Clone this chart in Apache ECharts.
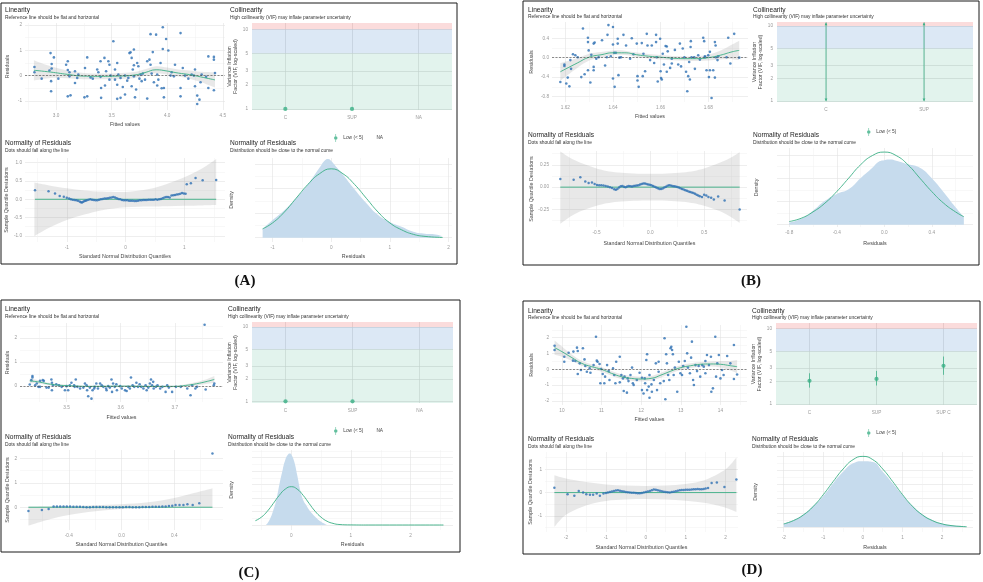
<!DOCTYPE html>
<html>
<head>
<meta charset="utf-8">
<script src="https://cdn.jsdelivr.net/npm/echarts@6/dist/echarts.min.js"></script>
<style>
  html, body { margin: 0; padding: 0; background: #fff; }
  #chart { width: 983px; height: 582px; }
</style>
</head>
<body>
<div id="chart"></div>
<script>
// ---------------- data ----------------
// (A)
const A_lin_pts = [[2.805,0.34],[2.805,0.13],[2.87,-0.12],[2.94,0.2],[2.95,0.89],[2.96,0.46],[2.96,0.28],[2.98,0.72],[2.955,-0.22],[2.955,-0.62],[3.02,-0.12],[3.09,0.43],[3.105,0.57],[3.105,0.22],[3.12,0.13],[3.12,-0.03],[3.13,-0.78],[3.105,-0.82],[3.17,0.17],[3.17,-0.29],[3.255,-0.86],[3.28,-0.82],[3.28,0.72],[3.26,0.3],[3.31,-0.07],[3.33,-0.12],[3.37,0.24],[3.38,0.13],[3.4,0.57],[3.405,-0.88],[3.405,-0.49],[3.435,0.7],[3.47,0.57],[3.48,0.43],[3.48,-0.16],[3.44,-0.39],[3.515,1.36],[3.53,-0.16],[3.55,-0.36],[3.55,0.5],[3.56,0.04],[3.58,-0.09],[3.55,-0.92],[3.58,-0.88],[3.6,-0.45],[3.62,-0.75],[3.66,0.89],[3.67,0.92],[3.68,0.7],[3.68,-0.42],[3.69,0.24],[3.7,1.03],[3.7,0.41],[3.7,-0.03],[3.71,-0.86],[3.72,-0.55],[3.73,0.5],[3.74,0.37],[3.75,-0.12],[3.77,-0.22],[3.78,0.08],[3.8,-0.16],[3.82,-0.91],[3.82,0.57],[3.84,0.63],[3.85,0.43],[3.85,1.64],[3.86,0.08],[3.87,0.93],[3.88,-0.26],[3.9,1.62],[3.91,0.04],[3.91,-0.39],[3.94,0.5],[3.95,-0.5],[3.96,1.91],[3.96,1.05],[3.97,-0.86],[3.99,1.45],[3.97,-0.49],[4.01,0.99],[4.03,0.0],[4.06,-0.03],[4.07,0.43],[4.12,1.68],[4.12,-0.49],[4.12,-0.82],[4.14,0.3],[4.16,0.0],[4.19,-0.12],[4.22,0.04],[4.24,0.0],[4.25,0.24],[4.25,-0.42],[4.27,-1.12],[4.27,-0.79],[4.29,-0.95],[4.31,0.04],[4.37,-0.49],[4.37,0.76],[4.42,0.74],[4.42,0.63],[4.42,-0.58],[4.43,0.1],[3.4,-0.05],[3.2,0.04],[3.19,-0.09],[3.45,0.17],[3.62,0.0],[3.64,-0.2],[3.76,0.04],[3.49,0.0],[3.53,0.24],[3.65,-0.09],[4.04,0.13],[3.92,-0.16],[4.35,-0.05],[4.3,-0.26]];
// loess fit: [fitted, fit, se]
const A_lin_fit = [[2.8,0.21,0.4],[2.95,0.14,0.23],[3.1,0.05,0.15],[3.25,-0.02,0.12],[3.4,-0.03,0.11],[3.55,-0.02,0.11],[3.7,0.02,0.12],[3.8,0.12,0.13],[3.9,0.23,0.14],[4.0,0.18,0.14],[4.1,0.1,0.14],[4.2,0.04,0.16],[4.3,-0.05,0.2],[4.43,-0.17,0.3]];
const A_qq_pts = [[-1.54,0.25],[-1.31,0.22],[-1.2,0.16],[-1.12,0.09],[-1.05,0.07],[-1.0,0.04],[-0.96,0.02],[-0.93,0.0],[-0.9,-0.01],[-0.87,-0.02],[-0.84,-0.03],[-0.81,-0.04],[-0.78,-0.06],[-0.76,-0.08],[-0.74,-0.09],[-0.72,-0.07],[-0.7,-0.05],[-0.68,-0.04],[-0.66,-0.03],[-0.63,-0.01],[-0.6,0.0],[-0.57,-0.01],[-0.54,-0.02],[-0.51,-0.03],[-0.48,-0.03],[-0.45,-0.01],[-0.42,0.0],[-0.39,0.01],[-0.36,0.02],[-0.33,0.02],[-0.3,0.03],[-0.27,0.04],[-0.24,0.05],[-0.21,0.06],[-0.18,0.05],[-0.15,0.03],[-0.12,0.01],[-0.09,0.0],[-0.06,-0.02],[-0.03,-0.03],[0.0,-0.03],[0.03,-0.03],[0.06,-0.04],[0.09,-0.04],[0.12,-0.04],[0.15,-0.05],[0.18,-0.05],[0.21,-0.04],[0.24,-0.03],[0.27,-0.03],[0.3,-0.02],[0.33,-0.02],[0.36,-0.02],[0.39,-0.01],[0.42,-0.01],[0.45,-0.01],[0.48,-0.01],[0.51,0.0],[0.54,-0.01],[0.57,0.0],[0.6,0.01],[0.63,0.03],[0.66,0.05],[0.69,0.06],[0.72,0.06],[0.75,0.05],[0.78,0.1],[0.81,0.11],[0.84,0.12],[0.87,0.13],[0.9,0.14],[0.93,0.15],[0.96,0.17],[0.99,0.16],[1.02,0.15],[1.04,0.41],[1.11,0.44],[1.19,0.58],[1.31,0.52],[1.54,0.53]];
// QQ band: [quantile, lower, upper]
const A_qq_band = [[-1.55,-1.01,0.46],[-1.3,-0.78,0.38],[-1.0,-0.57,0.3],[-0.7,-0.42,0.24],[-0.4,-0.3,0.21],[0,-0.22,0.2],[0.4,-0.2,0.28],[0.7,-0.19,0.42],[1.0,-0.18,0.6],[1.3,-0.17,0.84],[1.54,-0.16,1.1]];
const A_den_fill = [[-1.17,0.09],[-1.0,0.18],[-0.8,0.28],[-0.6,0.4],[-0.4,0.54],[-0.2,0.71],[-0.1,0.79],[-0.05,0.8],[0,0.78],[0.1,0.71],[0.2,0.64],[0.4,0.49],[0.6,0.35],[0.8,0.23],[1.0,0.16],[1.2,0.11],[1.4,0.06],[1.6,0.04],[1.75,0.035],[1.9,0.015]];
const A_den_norm = [[-1.17,0.09],[-1.0,0.15],[-0.8,0.26],[-0.6,0.4],[-0.4,0.54],[-0.2,0.65],[0,0.7],[0.2,0.65],[0.4,0.54],[0.6,0.4],[0.8,0.26],[1.0,0.15],[1.2,0.08],[1.4,0.034],[1.6,0.013],[1.9,0.002]];
const A_vif_terms = ['C', 'SUP', 'NA'];
const A_vif = [1, 1, null];

// (B)
const B_lin_pts = [[1.6179,-0.5],[1.6196,-0.14],[1.6196,-0.17],[1.6204,-0.53],[1.621,-0.41],[1.6217,-0.59],[1.6221,-0.05],[1.6224,-0.23],[1.6232,0.07],[1.6242,0.05],[1.6252,0.01],[1.6267,-0.4],[1.6274,0.6],[1.6281,-0.34],[1.6295,-0.26],[1.6295,0.41],[1.6295,0.32],[1.6298,0.15],[1.6305,-0.51],[1.6309,0.06],[1.6319,0.29],[1.6323,0.31],[1.6319,-0.19],[1.6319,-0.26],[1.633,-0.02],[1.634,0.01],[1.6354,0.36],[1.6367,-0.16],[1.6377,0.47],[1.6381,0.67],[1.6391,0.03],[1.64,0.63],[1.64,0.27],[1.64,-0.43],[1.6405,0.1],[1.6407,-0.6],[1.6412,0.1],[1.642,0.39],[1.642,0.29],[1.6423,-0.36],[1.6427,0.0],[1.6434,0.01],[1.6444,0.47],[1.6455,0.25],[1.6479,0.4],[1.6486,0.07],[1.65,0.29],[1.6503,-0.38],[1.6503,-0.47],[1.6508,-0.6],[1.6521,0.3],[1.6525,-0.38],[1.6528,0.08],[1.6535,-0.28],[1.6542,0.49],[1.6545,0.25],[1.6563,0.25],[1.6573,-0.11],[1.6581,0.32],[1.6581,0.47],[1.6584,0.01],[1.6588,-0.49],[1.6598,0.39],[1.66,-0.28],[1.6602,-0.42],[1.6605,-0.45],[1.6609,0.08],[1.6614,-0.14],[1.6621,0.24],[1.6626,-0.29],[1.6626,0.23],[1.663,0.13],[1.664,-0.21],[1.6647,-0.12],[1.666,0.16],[1.6674,-0.14],[1.6681,0.29],[1.6686,-0.18],[1.6693,0.19],[1.67,0.01],[1.6707,-0.29],[1.6712,-0.69],[1.6716,-0.38],[1.672,-0.09],[1.6723,-0.45],[1.6726,0.22],[1.6727,0.34],[1.673,0.01],[1.6741,0.01],[1.6758,0.05],[1.6779,0.41],[1.6783,0.34],[1.6786,0.03],[1.6786,0.01],[1.6793,-0.26],[1.68,0.05],[1.6803,-0.4],[1.6807,0.12],[1.6807,-0.26],[1.6814,-0.83],[1.6821,-0.26],[1.6828,0.32],[1.6828,-0.41],[1.6831,0.25],[1.6832,0.01],[1.6839,-0.05],[1.6842,0.03],[1.6877,0.01],[1.6884,0.41],[1.6893,-0.12],[1.6909,0.49],[1.693,0.0],[1.6744,-0.23],[1.6374,0.01],[1.6472,-0.02],[1.6556,-0.05],[1.6647,-0.02],[1.6765,-0.04]];
const B_lin_fit = [[1.6179,-0.29,0.18],[1.625,-0.11,0.1],[1.63,0.01,0.07],[1.635,0.06,0.055],[1.64,0.1,0.05],[1.645,0.1,0.045],[1.65,0.06,0.045],[1.655,0.03,0.045],[1.66,0.01,0.045],[1.665,-0.01,0.045],[1.67,-0.02,0.045],[1.675,-0.02,0.05],[1.68,0.0,0.06],[1.685,0.05,0.09],[1.69,0.12,0.15],[1.693,0.15,0.2]];
const B_qq_pts = [[-0.836,0.09],[-0.712,0.083],[-0.65,0.11],[-0.604,0.064],[-0.573,0.045],[-0.542,0.053],[-0.517,0.034],[-0.495,0.025],[-0.475,0.02],[-0.455,0.022],[-0.435,0.018],[-0.415,0.012],[-0.395,0.008],[-0.375,0.0],[-0.355,-0.01],[-0.335,-0.025],[-0.32,-0.03],[-0.305,-0.02],[-0.29,-0.005],[-0.275,0.01],[-0.26,0.012],[-0.245,0.005],[-0.23,0.0],[-0.215,0.008],[-0.2,0.012],[-0.185,0.01],[-0.17,0.008],[-0.155,0.012],[-0.14,0.015],[-0.125,0.018],[-0.11,0.022],[-0.095,0.03],[-0.08,0.035],[-0.065,0.042],[-0.05,0.04],[-0.035,0.035],[-0.02,0.03],[-0.005,0.028],[0.01,0.022],[0.025,0.012],[0.04,0.004],[0.055,-0.004],[0.07,-0.012],[0.085,-0.02],[0.1,-0.022],[0.115,-0.015],[0.13,-0.005],[0.145,0.005],[0.16,0.015],[0.175,0.022],[0.19,0.018],[0.205,0.012],[0.22,0.01],[0.235,0.008],[0.25,0.002],[0.265,-0.005],[0.28,-0.012],[0.295,-0.02],[0.31,-0.028],[0.325,-0.035],[0.34,-0.042],[0.355,-0.048],[0.37,-0.055],[0.385,-0.06],[0.4,-0.066],[0.415,-0.075],[0.43,-0.085],[0.445,-0.095],[0.46,-0.103],[0.48,-0.11],[0.5,-0.085],[0.52,-0.095],[0.54,-0.11],[0.565,-0.12],[0.59,-0.14],[0.63,-0.105],[0.69,-0.15],[0.83,-0.25]];
const B_qq_band = [[-0.836,-0.41,0.4],[-0.7,-0.3,0.3],[-0.5,-0.21,0.21],[-0.3,-0.165,0.165],[0,-0.15,0.15],[0.3,-0.165,0.165],[0.5,-0.21,0.21],[0.7,-0.3,0.3],[0.83,-0.4,0.39]];
const B_den_fill = [[-0.8,0.034],[-0.7,0.1],[-0.6,0.24],[-0.5,0.41],[-0.4,0.53],[-0.3,0.61],[-0.2,0.8],[-0.1,0.98],[-0.05,1.08],[0,1.11],[0.05,1.12],[0.1,1.1],[0.2,1.04],[0.3,0.98],[0.4,0.8],[0.5,0.56],[0.6,0.3],[0.67,0.13]];
const B_den_norm = [[-0.8,0.054],[-0.7,0.11],[-0.6,0.22],[-0.5,0.37],[-0.4,0.57],[-0.3,0.8],[-0.2,1.03],[-0.1,1.19],[0,1.25],[0.1,1.19],[0.2,1.03],[0.3,0.8],[0.4,0.57],[0.5,0.37],[0.6,0.22],[0.67,0.137]];
const B_vif_terms = ['C', 'SUP'];
const B_vif_lo = [1, 1];
const B_vif_hi = [11.1, 11.1];

// (C)
const C_lin_pts = [[3.432,0.07],[3.435,0.25],[3.437,0.42],[3.437,0.36],[3.442,0.04],[3.445,0.11],[3.448,-0.03],[3.451,0.22],[3.456,0.25],[3.458,0.22],[3.463,-0.06],[3.467,-0.06],[3.472,0.28],[3.473,-0.17],[3.473,0.14],[3.475,0.04],[3.481,0.08],[3.486,0.04],[3.491,-0.03],[3.497,-0.17],[3.503,-0.17],[3.506,0.04],[3.509,0.14],[3.514,0.04],[3.515,-0.03],[3.517,0.28],[3.52,-0.03],[3.525,-0.1],[3.531,-0.06],[3.534,0.11],[3.537,0.04],[3.538,-0.17],[3.54,-0.42],[3.546,-0.52],[3.548,-0.17],[3.551,-0.1],[3.552,-0.03],[3.555,0.11],[3.558,-0.1],[3.562,0.11],[3.565,0.04],[3.568,-0.03],[3.573,-0.1],[3.574,-0.17],[3.577,0.0],[3.58,-0.06],[3.583,0.28],[3.584,-0.24],[3.586,0.11],[3.589,-0.03],[3.592,0.08],[3.593,-0.17],[3.599,0.0],[3.602,-0.1],[3.608,-0.17],[3.611,-0.2],[3.614,-0.03],[3.617,-0.1],[3.619,0.36],[3.622,0.04],[3.625,-0.03],[3.629,0.14],[3.632,-0.03],[3.638,-0.03],[3.642,-0.1],[3.646,0.04],[3.648,-0.17],[3.651,-0.06],[3.654,0.11],[3.656,0.28],[3.658,0.04],[3.66,0.18],[3.661,-0.1],[3.665,-0.03],[3.668,0.04],[3.673,-0.1],[3.677,-0.03],[3.683,-0.24],[3.689,-0.06],[3.695,-0.24],[3.702,-0.03],[3.711,-0.03],[3.723,-0.1],[3.729,-0.38],[3.732,0.04],[3.738,-0.1],[3.741,-0.03],[3.757,-0.14],[3.772,0.04],[3.773,0.11],[3.755,2.56],[3.451,-0.03],[3.5,0.0],[3.543,-0.06],[3.635,0.08],[3.686,0.04]];
const C_lin_fit = [[3.432,0.22,0.1],[3.45,0.17,0.07],[3.47,0.08,0.05],[3.5,0.02,0.04],[3.55,-0.01,0.035],[3.6,0.0,0.035],[3.65,-0.01,0.035],[3.7,-0.01,0.04],[3.72,0.03,0.05],[3.74,0.1,0.07],[3.76,0.2,0.1],[3.773,0.28,0.14]];
const C_qq_pts = [[-0.706,-0.15],[-0.604,-0.11],[-0.553,-0.07],[-0.515,0.03],[-0.49,0.03],[-0.465,0.03],[-0.44,0.03],[-0.415,0.03],[-0.39,0.03],[-0.365,0.02],[-0.34,0.02],[-0.315,0.02],[-0.29,0.01],[-0.265,0.0],[-0.24,0.0],[-0.215,0.01],[-0.19,0.01],[-0.165,0.01],[-0.14,0.01],[-0.115,0.0],[-0.09,0.0],[-0.065,0.0],[-0.04,0.0],[-0.015,0.0],[0.01,0.0],[0.035,0.01],[0.06,0.01],[0.085,0.0],[0.11,0.0],[0.135,0.0],[0.16,0.01],[0.185,0.01],[0.21,0.01],[0.235,0.02],[0.26,0.02],[0.285,0.02],[0.31,0.03],[0.335,0.03],[0.36,0.05],[0.385,0.06],[0.41,0.09],[0.44,0.09],[0.47,0.09],[0.5,0.12],[0.54,0.09],[0.59,0.16],[0.69,2.2]];
const C_qq_band = [[-0.706,-0.75,0.03],[-0.55,-0.5,0.04],[-0.4,-0.32,0.05],[-0.2,-0.16,0.08],[0,-0.07,0.12],[0.2,-0.03,0.2],[0.4,-0.01,0.38],[0.55,0.0,0.58],[0.69,0.0,0.78]];
const C_den_fill = [[-0.42,0.02],[-0.4,0.06],[-0.35,0.25],[-0.3,0.55],[-0.25,0.93],[-0.2,1.48],[-0.15,1.98],[-0.1,2.41],[-0.05,2.62],[-0.02,2.65],[0,2.62],[0.05,2.35],[0.1,1.85],[0.15,1.3],[0.2,0.93],[0.25,0.74],[0.3,0.56],[0.35,0.43],[0.4,0.31],[0.5,0.12],[0.55,0.06],[0.6,0.02]];
const C_den_norm = [[-0.6,0.16],[-0.5,0.29],[-0.4,0.51],[-0.3,0.8],[-0.2,1.1],[-0.1,1.33],[0,1.42],[0.1,1.33],[0.2,1.1],[0.3,0.8],[0.4,0.51],[0.5,0.29],[0.6,0.14],[0.7,0.06],[0.8,0.02],[1.0,0.004],[1.3,0.0],[2.55,0.0]];
const C_vif_terms = ['C', 'SUP', 'NA'];
const C_vif = [1, 1, null];

// (D)
const D_lin_pts = [[9.815,1.49],[9.815,1.22],[10.06,0.8],[10.06,0.48],[10.17,1.05],[10.28,0.55],[10.29,1.12],[10.34,0.53],[10.38,1.37],[10.4,-0.29],[10.4,1.16],[10.45,0.38],[10.48,-0.04],[10.53,1.33],[10.57,0.63],[10.59,0.21],[10.63,-0.15],[10.7,0.06],[10.72,-0.21],[10.8,0.27],[10.86,2.06],[10.88,0.55],[10.9,0.48],[10.95,0.34],[10.97,-0.88],[10.99,0.02],[11.03,-0.29],[11.07,-0.88],[11.09,-0.46],[11.14,0.27],[11.18,-0.11],[11.2,-0.67],[11.29,0.06],[11.32,-0.36],[11.35,-0.88],[11.37,0.48],[11.46,0.8],[11.46,-0.82],[11.5,-0.36],[11.54,-0.57],[11.56,-1.37],[11.58,-0.46],[11.64,-1.47],[11.66,-0.57],[11.68,-0.74],[11.77,0.11],[11.79,-0.88],[11.81,-0.99],[11.89,-0.67],[11.96,-0.21],[12.02,-1.31],[12.02,-0.53],[12.06,-1.52],[12.09,-0.57],[12.1,-0.88],[12.13,0.59],[12.15,0.95],[12.15,-1.31],[12.19,-1.09],[12.21,-0.36],[12.21,-1.79],[12.26,-0.95],[12.27,-1.41],[12.32,-0.67],[12.37,0.38],[12.4,-1.31],[12.44,-0.15],[12.48,-0.88],[12.57,-0.74],[12.59,1.96],[12.61,-1.89],[12.63,0.95],[12.65,0.38],[12.68,-0.36],[12.71,-0.67],[12.74,1.33],[12.76,1.43],[12.78,1.22],[12.8,0.95],[12.82,-0.36],[12.85,0.11],[12.91,-1.41],[12.95,0.48],[12.99,-0.25],[13.06,0.21],[13.1,0.53],[13.14,2.69],[13.16,1.01],[13.18,0.11],[13.23,-0.25],[13.26,0.74],[13.28,1.75],[13.31,-0.67],[13.33,-0.99],[13.37,0.27],[13.41,-0.11],[13.45,0.21],[13.49,-0.46],[13.54,0.27],[13.58,0.17],[13.62,0.53],[13.66,0.91],[13.71,0.27],[13.76,0.8],[13.77,-1.41],[13.81,-1.2],[13.87,2.06],[13.89,-0.46],[13.92,0.38],[13.96,0.91],[14.0,-0.57],[14.04,-0.04],[14.08,-0.36],[14.17,0.84],[14.25,0.38],[14.34,1.54],[14.34,-0.61],[14.42,-0.32],[13.62,-0.25],[13.03,-0.36],[12.44,0.48],[11.73,-0.36]];
const D_lin_fit = [[9.815,1.37,0.45],[10.0,1.12,0.32],[10.25,0.74,0.2],[10.5,0.38,0.16],[10.75,0.17,0.15],[11.0,0.0,0.15],[11.25,-0.25,0.15],[11.5,-0.46,0.15],[11.75,-0.57,0.15],[12.0,-0.61,0.15],[12.25,-0.57,0.15],[12.5,-0.36,0.15],[12.75,-0.11,0.15],[13.0,0.11,0.15],[13.25,0.23,0.15],[13.5,0.32,0.15],[13.75,0.34,0.16],[14.0,0.32,0.2],[14.25,0.23,0.3],[14.42,0.17,0.42]];
const D_qq_pts = [[-2.29,0.21],[-1.96,-0.07],[-1.79,-0.14],[-1.68,0.07],[-1.57,0.0],[-1.49,-0.07],[-1.4,-0.09],[-1.32,-0.09],[-1.23,-0.04],[-1.15,-0.14],[-1.06,-0.04],[-1.0,-0.02],[-0.95,0.0],[-0.9,0.03],[-0.85,0.05],[-0.8,0.07],[-0.75,0.09],[-0.7,0.1],[-0.65,0.08],[-0.6,0.06],[-0.55,0.05],[-0.5,0.03],[-0.45,0.01],[-0.4,0.0],[-0.35,-0.01],[-0.3,-0.01],[-0.25,-0.02],[-0.2,-0.03],[-0.15,-0.03],[-0.1,-0.02],[-0.05,0.0],[0.0,0.03],[0.05,0.05],[0.1,0.07],[0.15,0.1],[0.2,0.13],[0.25,0.12],[0.3,0.1],[0.35,0.08],[0.4,0.06],[0.45,0.04],[0.5,0.03],[0.55,0.01],[0.6,0.0],[0.65,0.02],[0.7,0.04],[0.75,0.06],[0.8,0.08],[0.85,0.1],[0.9,0.11],[0.95,0.11],[1.0,0.12],[1.05,0.12],[1.1,0.12],[1.15,0.13],[1.2,0.14],[1.25,0.14],[1.3,0.15],[1.35,0.14],[1.4,0.14],[1.45,0.15],[1.5,0.17],[1.56,0.2],[1.65,0.41],[1.78,0.43],[1.97,0.24],[2.27,0.56]];
const D_qq_band = [[-2.29,-1.47,0.74],[-2.0,-0.95,0.6],[-1.5,-0.55,0.45],[-1.0,-0.36,0.35],[-0.5,-0.3,0.3],[0,-0.28,0.28],[0.5,-0.3,0.3],[1.0,-0.35,0.37],[1.5,-0.45,0.55],[2.0,-0.65,1.0],[2.27,-0.83,1.5]];
const D_den_fill = [[-2.0,0.025],[-1.75,0.05],[-1.5,0.09],[-1.25,0.15],[-1.0,0.22],[-0.75,0.31],[-0.5,0.39],[-0.25,0.45],[0,0.465],[0.25,0.46],[0.5,0.39],[0.75,0.31],[1.0,0.225],[1.25,0.15],[1.5,0.09],[1.75,0.05],[2.0,0.025],[2.25,0.013],[2.5,0.008],[2.62,0.006]];
const D_den_norm = [[-2.0,0.022],[-1.75,0.046],[-1.5,0.086],[-1.25,0.147],[-1.0,0.229],[-0.75,0.322],[-0.5,0.41],[-0.25,0.476],[0,0.499],[0.25,0.476],[0.5,0.41],[0.75,0.322],[1.0,0.229],[1.25,0.147],[1.5,0.086],[1.75,0.046],[2.0,0.022],[2.25,0.0096],[2.5,0.0037],[2.62,0.0023]];
const D_vif_terms = ['C', 'SUP', 'SUP C'];
const D_vif = [2.03, 2.15, 3.21];
const D_vif_lo = [1.65, 1.76, 2.44];
const D_vif_hi = [2.56, 2.75, 4.27];

// ---------------- styling ----------------
const GREEN = '#3aaf85';
const BLUE = '#2d6fb3';
const BAND = 'rgba(120,120,120,0.17)';
const DENS = '#c6dbed';
const GRIDC = '#e3e3e3';
const MINORC = '#f1f1f1';
const FONT = '"Liberation Sans", Arial, sans-serif';
const PIN = 'path://M4.4,0H5.6V16H4.4Z M1.5,8A3.5,3.5,0,0,1,8.5,8A3.5,3.5,0,0,1,1.5,8Z';

const grid = [], xAxis = [], yAxis = [], series = [], graphic = [], legend = [];

function onStep(v, step) { const r = v / step; return Math.abs(r - Math.round(r)) < 1e-6; }

const nameStyle = { fontSize: 5.3, color: '#444', fontFamily: FONT, lineHeight: 6.5 };
const labelBase = { fontSize: 4.7, color: '#9a9a9a', fontFamily: FONT };

function numAxis(gi, a, name, gap) {
  return {
    type: 'value', gridIndex: gi, min: a.min, max: a.max,
    minInterval: a.step, maxInterval: a.step,
    name: name, nameLocation: 'middle', nameGap: gap, nameTextStyle: nameStyle,
    axisLine: { show: false }, axisTick: { show: false },
    axisLabel: Object.assign({}, labelBase, {
      show: a.dec != null, margin: 3,
      formatter: v => onStep(v, a.step) ? (Math.round(v / a.step) * a.step).toFixed(a.dec) : ''
    }),
    splitLine: { show: true, showMinLine: false, showMaxLine: false, lineStyle: { color: GRIDC, width: 0.6 } },
    minorTick: { show: false, splitNumber: 2 },
    minorSplitLine: { show: true, lineStyle: { color: MINORC, width: 0.5 } }
  };
}

function termAxis(gi, terms) {
  return {
    type: 'value', gridIndex: gi, min: -0.5, max: terms.length - 0.5, minInterval: 1, maxInterval: 1,
    axisLine: { show: false }, axisTick: { show: false },
    axisLabel: Object.assign({}, labelBase, { margin: 5, formatter: v => onStep(v, 1) ? terms[Math.round(v)] : '' }),
    splitLine: { show: true, showMinLine: false, showMaxLine: false, lineStyle: { color: '#d8d8d8', width: 0.6 } }
  };
}

const VIF_TICKS = [1, 2, 3, 5, 10];
function vifAxis(gi, a, gap) {
  return {
    type: 'log', logBase: 10, gridIndex: gi, min: a.min, max: a.max,
    name: 'Variance Inflation\nFactor (VIF, log-scaled)', nameLocation: 'middle', nameGap: gap, nameTextStyle: nameStyle,
    axisLine: { show: false }, axisTick: { show: false, customValues: VIF_TICKS },
    axisLabel: Object.assign({}, labelBase, { margin: 4, customValues: VIF_TICKS, formatter: v => String(Math.round(v)) }),
    splitLine: { show: true, customValues: VIF_TICKS, lineStyle: { color: '#d8d8d8', width: 0.6 } }
  };
}

function addGrid(r) {
  grid.push({ left: r[0], top: r[1], width: r[2], height: r[3], containLabel: false, outerBoundsMode: 'none' });
  return grid.length - 1;
}

// Catmull-Rom spline through pixel points, as path commands
function spline(p, first) {
  let d = first + p[0][0] + ',' + p[0][1];
  for (let i = 0; i < p.length - 1; i++) {
    const a = p[Math.max(i - 1, 0)], b = p[i], c = p[i + 1], e = p[Math.min(i + 2, p.length - 1)];
    d += 'C' + (b[0] + (c[0] - a[0]) / 6) + ',' + (b[1] + (c[1] - a[1]) / 6) + ' ' +
         (c[0] - (e[0] - b[0]) / 6) + ',' + (c[1] - (e[1] - b[1]) / 6) + ' ' + c[0] + ',' + c[1];
  }
  return d;
}

function bandSeries(gi, band) {
  series.push({
    type: 'custom', xAxisIndex: gi, yAxisIndex: gi, silent: true, clip: true, z: 1,
    data: [[band[0][0], band[0][1]]],
    renderItem: (params, api) => {
      const up = band.map(b => api.coord([b[0], b[2]]));
      const lo = band.map(b => api.coord([b[0], b[1]])).reverse();
      return { type: 'path', shape: { pathData: spline(up, 'M') + spline(lo, 'L') + 'Z' }, style: { fill: BAND } };
    }
  });
}

function heading(pos, title, sub) {
  graphic.push({ type: 'text', left: pos[0], top: pos[1], silent: true,
    style: { text: title, fill: '#1e1e1e', font: '6.6px ' + FONT } });
  graphic.push({ type: 'text', left: pos[0], top: pos[1] + 7.8, silent: true,
    style: { text: sub, fill: '#333', font: '4.9px ' + FONT } });
}

function linearity(L, ax, pts, fit) {
  const gi = addGrid(L.rect);
  xAxis.push(numAxis(gi, ax.x, 'Fitted values', L.gap[0]));
  yAxis.push(numAxis(gi, ax.y, 'Residuals', L.gap[1]));
  heading(L.title, 'Linearity', 'Reference line should be flat and horizontal');
  series.push({
    type: 'scatter', xAxisIndex: gi, yAxisIndex: gi, data: pts, symbolSize: 2.6, z: 2,
    itemStyle: { color: BLUE }, silent: true,
    markLine: { silent: true, symbol: 'none', label: { show: false },
      lineStyle: { color: '#444', type: [2, 1.5], width: 0.6 }, data: [{ yAxis: 0 }] }
  });
  bandSeries(gi, fit.map(f => [f[0], f[1] - f[2], f[1] + f[2]]));
  series.push({
    type: 'line', xAxisIndex: gi, yAxisIndex: gi, data: fit.map(f => [f[0], f[1]]), smooth: true,
    symbol: 'none', lineStyle: { color: GREEN, width: 0.9 }, silent: true, z: 3
  });
}

function collinearity(L, yr, terms, vif, lo, hi, arrows, withNA) {
  const gi = addGrid(L.rect);
  xAxis.push(termAxis(gi, terms));
  yAxis.push(vifAxis(gi, yr, L.gap[1]));
  heading(L.title, 'Collinearity', 'High collinearity (VIF) may inflate parameter uncertainty');
  const pts = [];
  if (vif) vif.forEach((v, i) => { if (v != null) pts.push([i, v]); });
  series.push({
    type: 'scatter', name: 'Low (< 5)', xAxisIndex: gi, yAxisIndex: gi, data: pts, symbolSize: 4.2, z: 4,
    itemStyle: { color: GREEN }, silent: true,
    markArea: { silent: true, label: { show: false }, data: [
      [{ yAxis: yr.min, itemStyle: { color: 'rgba(58,175,133,0.15)' } }, { yAxis: 5 }],
      [{ yAxis: 5, itemStyle: { color: 'rgba(40,115,195,0.16)' } }, { yAxis: 10 }],
      [{ yAxis: 10, itemStyle: { color: 'rgba(235,80,80,0.2)' } }, { yAxis: yr.max }]
    ] }
  });
  if (lo) {
    series.push({
      type: 'custom', name: 'Low (< 5)', xAxisIndex: gi, yAxisIndex: gi, silent: true, z: 3,
      encode: { x: 0, y: [1, 2] },
      data: lo.map((v, i) => [i, v, hi[i]]),
      renderItem: (params, api) => {
        const x = api.value(0);
        const p0 = api.coord([x, api.value(1)]), p1 = api.coord([x, api.value(2)]);
        const kids = [{ type: 'line', shape: { x1: p0[0], y1: p0[1], x2: p1[0], y2: p1[1] },
          style: { stroke: GREEN, lineWidth: 0.9, opacity: 0.85 } }];
        if (arrows) {
          kids.push({ type: 'polygon', shape: { points: [[p1[0] - 1.4, p1[1] + 2.6], [p1[0] + 1.4, p1[1] + 2.6], [p1[0], p1[1]]] }, style: { fill: GREEN } });
          kids.push({ type: 'polygon', shape: { points: [[p0[0] - 1.4, p0[1] - 2.6], [p0[0] + 1.4, p0[1] - 2.6], [p0[0], p0[1]]] }, style: { fill: GREEN } });
        }
        return { type: 'group', children: kids };
      }
    });
  }
  const items = [{ name: 'Low (< 5)', icon: PIN }];
  if (withNA) {
    series.push({ type: 'scatter', name: 'NA', xAxisIndex: gi, yAxisIndex: gi, data: [], itemStyle: { color: '#fff', opacity: 0 } });
    items.push({ name: 'NA', itemStyle: { opacity: 0 } });
  }
  legend.push({
    left: L.legend[0], top: L.legend[1], itemWidth: 5, itemHeight: 8, itemGap: 3, selectedMode: false,
    textStyle: { fontSize: 4.8, color: '#444', fontFamily: FONT }, data: items
  });
}

function qqPlot(L, ax, pts, band) {
  const gi = addGrid(L.rect);
  xAxis.push(numAxis(gi, ax.x, 'Standard Normal Distribution Quantiles', L.gap[0]));
  yAxis.push(numAxis(gi, ax.y, 'Sample Quantile Deviations', L.gap[1]));
  heading(L.title, 'Normality of Residuals', 'Dots should fall along the line');
  bandSeries(gi, band);
  series.push({
    type: 'line', xAxisIndex: gi, yAxisIndex: gi, data: [[pts[0][0], 0], [pts[pts.length - 1][0], 0]],
    symbol: 'none', lineStyle: { color: GREEN, width: 0.9 }, silent: true, z: 2
  });
  series.push({
    type: 'scatter', xAxisIndex: gi, yAxisIndex: gi, data: pts, symbolSize: 2.5, z: 3,
    itemStyle: { color: BLUE }, silent: true
  });
}

function densityPlot(L, ax, fill, norm) {
  const gi = addGrid(L.rect);
  xAxis.push(numAxis(gi, ax.x, 'Residuals', L.gap[0]));
  yAxis.push(numAxis(gi, ax.y, 'Density', L.gap[1]));
  heading(L.title, 'Normality of Residuals', 'Distribution should be close to the normal curve');
  series.push({
    type: 'line', xAxisIndex: gi, yAxisIndex: gi, data: fill, smooth: true, symbol: 'none',
    lineStyle: { width: 0 }, areaStyle: { color: DENS, opacity: 1 }, silent: true, z: 2
  });
  series.push({
    type: 'line', xAxisIndex: gi, yAxisIndex: gi, data: norm, smooth: true, symbol: 'none',
    lineStyle: { color: GREEN, width: 0.9 }, silent: true, z: 3
  });
}

function frame(box, label, lp) {
  graphic.push({ type: 'rect', silent: true, shape: { x: box[0], y: box[1], width: box[2], height: box[3] },
    style: { fill: 'none', stroke: '#1a1a1a', lineWidth: 1 } });
  graphic.push({ type: 'text', silent: true, x: lp[0], y: lp[1],
    style: { text: label, font: 'bold 15px "Liberation Serif", "DejaVu Serif", serif', fill: '#111', align: 'center', verticalAlign: 'middle' } });
}

// ---------------- layout ----------------
// Panel A
frame([1, 3, 456, 261], '(A)', [245, 281]);
linearity({ rect: [25, 23, 200, 87], title: [5, 7], gap: [11, 14] },
  { x: { min: 2.72, max: 4.52, step: 0.5, dec: 1 }, y: { min: -1.36, max: 2.08, step: 1, dec: 0 } }, A_lin_pts, A_lin_fit);
collinearity({ rect: [252, 23, 200, 87], title: [230, 7], gap: [0, 10], legend: [329, 129] },
  { min: 0.97, max: 12 }, A_vif_terms, A_vif, null, null, false, true);
qqPlot({ rect: [25, 158, 200, 84], title: [5, 140], gap: [11, 15] },
  { x: { min: -1.71, max: 1.69, step: 1, dec: 0 }, y: { min: -1.17, max: 1.13, step: 0.5, dec: 1 } }, A_qq_pts, A_qq_band);
densityPlot({ rect: [255, 158, 197, 84], title: [230, 140], gap: [11, 20] },
  { x: { min: -1.3, max: 2.06, step: 1, dec: 0 }, y: { min: -0.044, max: 0.81, step: 0.25 } }, A_den_fill, A_den_norm);

// Panel B
frame([523, 1, 456, 264], '(B)', [751, 281]);
linearity({ rect: [552, 22, 196, 80], title: [528, 6.5], gap: [11, 17] },
  { x: { min: 1.6144, max: 1.6967, step: 0.02, dec: 2 }, y: { min: -0.912, max: 0.734, step: 0.4, dec: 1 } }, B_lin_pts, B_lin_fit);
collinearity({ rect: [777, 22, 196, 80], title: [753, 6.5], gap: [0, 13], legend: [862, 123] },
  { min: 0.97, max: 11.3 }, B_vif_terms, null, B_vif_lo, B_vif_hi, true, false);
qqPlot({ rect: [552, 151, 195, 76], title: [528, 132], gap: [13, 17] },
  { x: { min: -0.913, max: 0.898, step: 0.5, dec: 1 }, y: { min: -0.447, max: 0.405, step: 0.25, dec: 2 } }, B_qq_pts, B_qq_band);
densityPlot({ rect: [777, 148, 196, 79], title: [753, 132], gap: [13, 17] },
  { x: { min: -0.903, max: 0.747, step: 0.4, dec: 1 }, y: { min: -0.04, max: 1.32, step: 0.4 } }, B_den_fill, B_den_norm);

// Panel C
frame([1, 300, 459, 252], '(C)', [249, 573]);
linearity({ rect: [20, 323, 203, 79], title: [5, 306], gap: [12, 8] },
  { x: { min: 3.414, max: 3.789, step: 0.1, dec: 1 }, y: { min: -0.66, max: 2.63, step: 1, dec: 0 } }, C_lin_pts, C_lin_fit);
collinearity({ rect: [252, 322, 201, 81], title: [228, 306], gap: [0, 10], legend: [329, 422] },
  { min: 0.95, max: 11.66 }, C_vif_terms, C_vif, null, null, false, true);
qqPlot({ rect: [20, 450, 203, 80], title: [5, 434], gap: [11, 9] },
  { x: { min: -0.77, max: 0.77, step: 0.4, dec: 1 }, y: { min: -0.93, max: 2.34, step: 1, dec: 0 } }, C_qq_pts, C_qq_band);
densityPlot({ rect: [252, 450, 201, 80], title: [228, 434], gap: [11, 17] },
  { x: { min: -0.657, max: 2.71, step: 1, dec: 0 }, y: { min: -0.185, max: 2.78, step: 0.5 } }, C_den_fill, C_den_norm);

// Panel D
frame([523, 301, 457, 253], '(D)', [752, 570]);
linearity({ rect: [552, 325, 195, 80], title: [528, 307.5], gap: [11, 17] },
  { x: { min: 9.75, max: 14.67, step: 1, dec: 0 }, y: { min: -2.25, max: 2.8, step: 1, dec: 0 } }, D_lin_pts, D_lin_fit);
collinearity({ rect: [776, 323, 201, 82], title: [752, 307.5], gap: [0, 12], legend: [862, 424] },
  { min: 0.97, max: 11.9 }, D_vif_terms, D_vif, D_vif_lo, D_vif_hi, false, false);
qqPlot({ rect: [545, 452, 193, 80], title: [528, 436], gap: [12, 10] },
  { x: { min: -2.525, max: 2.31, step: 1, dec: 0 }, y: { min: -1.69, max: 1.74, step: 1, dec: 0 } }, D_qq_pts, D_qq_band);
densityPlot({ rect: [777, 452, 196, 80], title: [752, 436], gap: [12, 18] },
  { x: { min: -2.17, max: 2.78, step: 1, dec: 0 }, y: { min: -0.035, max: 0.53, step: 0.1 } }, D_den_fill, D_den_norm);

const chart = echarts.init(document.getElementById('chart'));
chart.setOption({
  animation: false,
  backgroundColor: '#fff',
  textStyle: { fontFamily: FONT },
  grid: grid,
  xAxis: xAxis,
  yAxis: yAxis,
  legend: legend,
  graphic: graphic,
  series: series
});
</script>
</body>
</html>
